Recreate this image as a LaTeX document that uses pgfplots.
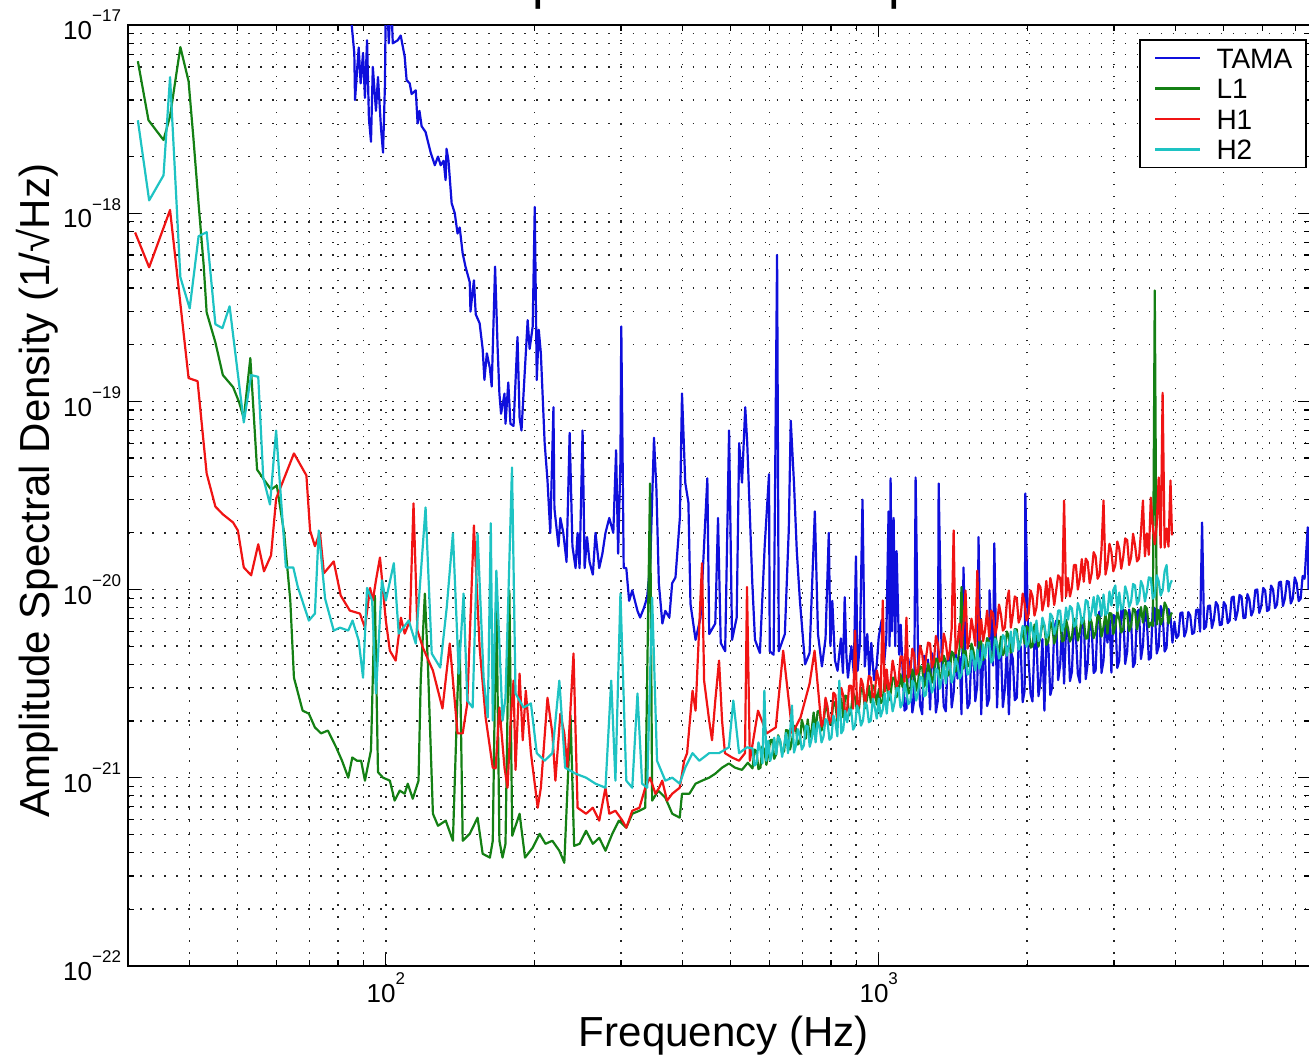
\documentclass[border=0pt]{standalone}
\usepackage{fontspec}
\setmainfont{Liberation Sans}
\usepackage{pgfplots}
\pgfplotsset{compat=1.18}
\definecolor{tama}{RGB}{15,15,220}
\definecolor{lone}{RGB}{20,128,20}
\definecolor{hone}{RGB}{240,20,20}
\definecolor{htwo}{RGB}{30,195,195}
\newcommand{\ex}[1]{10\raisebox{0.68em}{\fontsize{8.5}{8.5}\selectfont#1}}

\begin{document}
\begin{tikzpicture}
\begin{axis}[
    name=ax,
    scale only axis,
    width=590.5pt, height=470pt,
    xmode=log, ymode=log,
    xmin=30, xmax=7500, ymin=1e-22, ymax=1e-17,
    xtick={100,1000},
    xticklabels={\ex{2},\ex{3}},
    ytick={1e-22,1e-21,1e-20,1e-19,1e-18,1e-17},
    yticklabels={\ex{−22},\ex{−21},\ex{−20},\ex{−19},\ex{−18},\ex{−17}},
    minor xtick={40,50,60,70,80,90,200,300,400,500,600,700,800,900,2000,3000,4000,5000,6000,7000},
    minor ytick={2e-22,3e-22,4e-22,5e-22,6e-22,7e-22,8e-22,9e-22,
                 2e-21,3e-21,4e-21,5e-21,6e-21,7e-21,8e-21,9e-21,
                 2e-20,3e-20,4e-20,5e-20,6e-20,7e-20,8e-20,9e-20,
                 2e-19,3e-19,4e-19,5e-19,6e-19,7e-19,8e-19,9e-19,
                 2e-18,3e-18,4e-18,5e-18,6e-18,7e-18,8e-18,9e-18},
    grid=both,
    major grid style={black!85, line width=0.7pt, dash pattern=on 0.7pt off 5.3pt},
    minor grid style={black!85, line width=0.7pt, dash pattern=on 0.7pt off 5.3pt},
    tick align=inside,
    major tick length=6pt, minor tick length=3pt,
    every tick/.style={black, line width=0.6pt},
    axis line style={line width=1pt},
    tick label style={font=\fontsize{13}{13}\selectfont},
    xlabel={Frequency (Hz)},
    ylabel={Amplitude Spectral Density (1/√Hz)},
    label style={font=\fontsize{21}{21}\selectfont},
    xlabel style={at={(axis description cs:0.504,-0.0745)}, anchor=center},
    ylabel style={at={(axis description cs:-0.077,0.505)}, anchor=center},
    every axis plot/.append style={line width=1.1pt, line join=round},
    legend cell align=left,
    legend style={at={(axis description cs:0.9975,0.985)}, anchor=north east,
        draw=black, line width=0.8pt, fill=white,
        font=\fontsize{14}{15}\selectfont,
        nodes={inner sep=0pt, text height=10pt, text depth=0pt},
        row sep=5.25pt, column sep=7.5pt, inner xsep=7pt, inner ysep=4pt},
    legend image code/.code={\draw[#1, line width=1.1pt] (0pt,0pt) -- (22.5pt,0pt);},
]

% TAMA
\addplot[color=tama] coordinates {
(83.2,2e-17) (86.3,7.1e-18) (86.6,4.0e-18) (88.1,7.6e-18) (88.9,4.9e-18) (89.9,7.1e-18) (90.7,4.1e-18) (91.6,8.3e-18)
(92.4,3.2e-18) (93.3,2.4e-18) (94.1,6.0e-18) (95.5,3.5e-18) (96.4,5.3e-18) (97.3,3.5e-18) (97.8,2.8e-18) (98.7,2.1e-18)
(99.6,4.9e-18) (100,1.5e-17) (100.5,1.5e-17) (101.4,8.0e-18) (102.4,1.5e-17) (103.3,8.0e-18) (105.7,8.3e-18) (107.2,8.8e-18)
(109.2,6.8e-18) (110.2,5.1e-18) (111.8,4.9e-18) (112.8,4.3e-18) (115.0,4.5e-18) (116.0,3.0e-18) (117.0,3.5e-18) (118.2,2.9e-18)
(120.4,2.7e-18) (123.3,2.1e-18) (125.7,1.8e-18) (127.6,2.0e-18) (129.2,1.8e-18) (131.0,1.9e-18) (132.2,1.5e-18) (132.8,2.2e-18)
(134.0,1.9e-18) (136.0,1.13e-18) (138.0,1.0e-18) (139.8,7.8e-19) (141.2,8.4e-19) (143.2,6.1e-19) (145.1,5.2e-19) (148.0,4.3e-19)
(148.5,3.0e-19) (150.9,4.4e-19) (152.2,2.9e-19) (155.0,2.6e-19) (157.2,1.9e-19) (158.5,1.3e-19) (160.3,1.8e-19) (162.6,1.5e-19)
(164.0,1.2e-19) (166.6,5.2e-19) (168.6,1.9e-19) (170.0,1.1e-19) (171.3,8.6e-20) (174.1,1.1e-19) (174.9,7.6e-20) (177.2,1.26e-19)
(179.0,7.6e-20) (181.6,7.4e-20) (185.0,2.2e-19) (186.8,8.2e-20) (188.5,7.0e-20) (192.3,1.8e-19) (194.0,2.7e-19) (195.8,1.9e-19)
(198.6,2.5e-19) (200.5,1.08e-18) (202.4,1.3e-19) (204.3,2.4e-19) (206.3,1.8e-19) (210.0,6.0e-20) (212.8,3.8e-20) (215.6,2.0e-20)
(218.8,9.3e-20) (219.8,2.7e-20) (224.0,1.7e-20) (226.0,2.4e-20) (229.1,2.0e-20) (232.6,1.4e-20) (236.0,6.8e-20) (239.1,1.7e-20)
(242.6,1.3e-20) (244.9,2.0e-20) (247.2,1.3e-20) (250.7,7.0e-20) (253.1,1.3e-20) (256.0,1.9e-20) (259.0,1.4e-20) (263.0,1.2e-20)
(266.3,2.0e-20) (271.0,1.3e-20) (275.0,1.55e-20) (279.0,2.0e-20) (284.0,2.4e-20) (289.4,2.0e-20) (293.2,5.5e-20) (296.0,1.55e-20)
(299.2,4.8e-20) (300.4,2.5e-19) (303.8,1.3e-20) (307.5,1.3e-20) (311.6,8.7e-21) (316.2,9.9e-21) (324,7.7e-21) (328,7.1e-21)
(334,8.0e-21) (339,9.1e-21) (344,1.4e-20) (350,6.4e-20) (354,3.4e-20) (358,1.08e-20) (364,6.6e-21) (369,7.7e-21)
(376,7.1e-21) (381,1.08e-20) (387,1.16e-20) (395,2.4e-20) (399,1.1e-19) (405,3.7e-20) (411,2.9e-20) (415,8.4e-21)
(425,5.4e-21) (435,7.1e-21) (449,3.9e-20) (453,5.8e-21) (466,6.6e-21) (472,2.4e-20) (478,5.2e-21) (488,4.7e-21)
(497,7.0e-20) (504,5.4e-21) (515,7.1e-21) (521,6.0e-20) (528,3.7e-20) (536,9.3e-20) (541,6.0e-20) (548,2.4e-20)
(554,1.08e-20) (561,5.4e-21) (574,4.6e-21) (587,1.7e-20) (599,4.1e-20) (601,4.7e-21) (612,4.5e-21) (622,6.0e-19)
(627,4.7e-21) (645,5.8e-21) (657,2.1e-20) (663,7.9e-20) (673,3.7e-20) (682,1.6e-20) (692,8.7e-21) (709,4.0e-21)
(724,4.6e-21) (742,2.6e-20) (753,5.8e-21) (767,3.9e-21) (780,5.5e-21) (792,2.0e-20) (798,5.0e-21) (805,8.7e-21)
(815,4.2e-21) (825,3.7e-21) (838,5.5e-21) (846,3.6e-21) (853,9.1e-21) (860,4.4e-21) (866,3.4e-21) (880,5.0e-21)
(890,3.6e-21) (899,1.5e-20) (906,3.7e-21) (916,5.2e-21) (927,3.0e-20) (937,3.9e-21) (948,5.8e-21) (957,3.5e-21)
(966,5.2e-21) (978,3.3e-21) (990,3.9e-21) (1000,5.6e-21) (1014,6.9e-21) (1025,4.0e-21) (1036,5.5e-21) (1047,2.6e-20)
(1052,5.0e-21) (1057,3.9e-20) (1064,6.0e-21) (1072,2.4e-20) (1080,5.0e-21) (1087,1.6e-20) (1100,4.5e-21) (1108,6.5e-21)
(1117,3.94e-21) (1128,2.27e-21) (1138,2.33e-21) (1148,4.29e-21) (1159,3.62e-21) (1170,2.22e-21) (1180,2.57e-21) (1188,3.94e-20)
(1202,4.24e-21) (1213,2.42e-21) (1225,2.17e-21) (1236,4.45e-21) (1247,3.12e-21) (1259,4.24e-21) (1271,2.30e-21) (1282,4.59e-21)
(1294,4.19e-21) (1306,2.22e-21) (1318,2.57e-21) (1323,3.66e-20) (1343,3.80e-21) (1355,2.39e-21) (1368,2.25e-21) (1381,4.42e-21)
(1393,4.62e-21) (1406,2.36e-21) (1419,2.83e-21) (1432,4.65e-21) (1445,3.36e-21) (1459,4.40e-21) (1472,2.17e-21) (1486,1.31e-20)
(1500,3.99e-21) (1514,2.34e-21) (1528,2.48e-21) (1542,4.68e-21) (1556,4.45e-21) (1570,2.55e-21) (1585,3.12e-21) (1594,1.90e-20)
(1614,2.17e-21) (1629,4.51e-21) (1644,4.24e-21) (1659,2.40e-21) (1675,2.63e-21) (1678,9.9e-21) (1706,3.94e-21) (1716,1.76e-20)
(1738,2.36e-21) (1754,4.76e-21) (1770,4.79e-21) (1786,2.37e-21) (1803,2.97e-21) (1820,5.0e-21) (1837,2.17e-21) (1854,4.71e-21)
(1871,4.29e-21) (1888,2.58e-21) (1906,2.66e-21) (1923,5.26e-21) (1941,4.97e-21) (1959,2.52e-21) (1977,2.90e-21) (1984,3.24e-20)
(2014,4.24e-21) (2033,2.78e-21) (2051,2.54e-21) (2070,5.45e-21) (2089,5.55e-21) (2109,2.71e-21) (2128,3.24e-21) (2148,5.45e-21)
(2168,2.27e-21) (2188,5.26e-21) (2208,5.1e-21) (2229,2.75e-21) (2249,3.04e-21) (2270,6.20e-21) (2291,6.84e-21) (2312,3.30e-21)
(2334,3.99e-21) (2355,6.47e-21) (2377,3.16e-21) (2399,6.24e-21) (2421,6.27e-21) (2443,3.26e-21) (2466,3.66e-21) (2489,6.88e-21)
(2512,5.69e-21) (2535,3.55e-21) (2559,3.20e-21) (2582,6.72e-21) (2606,7.0e-21) (2630,3.34e-21) (2655,4.09e-21) (2679,7.05e-21)
(2704,6.35e-21) (2729,3.60e-21) (2754,3.71e-21) (2780,7.05e-21) (2805,7.64e-21) (2831,3.60e-21) (2858,4.19e-21) (2884,7.05e-21)
(2911,5.22e-21) (2938,7.45e-21) (2965,3.62e-21) (2992,7.32e-21) (3020,7.18e-21) (3048,3.83e-21) (3076,4.19e-21) (3105,7.88e-21)
(3133,7.83e-21) (3162,4.02e-21) (3192,4.68e-21) (3221,7.83e-21) (3251,6.75e-21) (3281,3.87e-21) (3311,4.09e-21) (3342,7.59e-21)
(3373,7.83e-21) (3404,4.27e-21) (3436,5.03e-21) (3468,8.17e-21) (3500,6.75e-21) (3532,4.24e-21) (3565,4.34e-21) (3598,8.07e-21)
(3631,7.93e-21) (3665,4.57e-21) (3698,4.97e-21) (3733,8.17e-21) (3767,7.55e-21) (3802,4.68e-21) (3837,4.91e-21) (3872,7.88e-21)
(3908,7.18e-21) (3944,5.22e-21) (3981,6.75e-21) (4018,5.52e-21) (4055,5.69e-21) (4093,7.50e-21) (4131,7.55e-21) (4169,5.62e-21)
(4207,6.05e-21) (4246,7.59e-21) (4286,7.27e-21) (4325,5.80e-21) (4365,5.91e-21) (4405,7.78e-21) (4446,7.83e-21) (4487,5.98e-21)
(4529,2.27e-20) (4571,6.16e-21) (4613,6.35e-21) (4656,8.17e-21) (4699,8.22e-21) (4742,6.24e-21) (4786,6.92e-21) (4830,8.58e-21)
(4875,8.22e-21) (4920,6.47e-21) (4966,6.51e-21) (5012,8.58e-21) (5058,8.22e-21) (5105,6.63e-21) (5152,6.84e-21) (5200,9.06e-21)
(5248,9.18e-21) (5297,6.88e-21) (5346,7.64e-21) (5395,9.35e-21) (5445,9.18e-21) (5495,7.05e-21) (5546,7.09e-21) (5597,9.46e-21)
(5649,8.84e-21) (5701,7.27e-21) (5754,7.73e-21) (5807,9.94e-21) (5861,1.0e-20) (5915,7.50e-21) (5970,8.12e-21) (6025,1.02e-20)
(6081,9.88e-21) (6137,7.68e-21) (6194,7.83e-21) (6251,1.05e-20) (6310,1.0e-20) (6368,7.97e-21) (6427,8.32e-21) (6486,1.09e-20)
(6546,1.10e-20) (6607,8.17e-21) (6668,8.95e-21) (6730,1.11e-20) (6792,1.10e-20) (6855,8.43e-21) (6918,8.95e-21) (6983,1.16e-20)
(7047,1.08e-20) (7112,8.68e-21) (7178,8.95e-21) (7245,1.18e-20) (7311,1.14e-20) (7420,2.14e-20) (7447,1.01e-20) (7586,1.15e-20)
};
\addlegendentry{TAMA}

% L1
\addplot[color=lone] coordinates {
(31.4,6.43e-18) (33.0,3.12e-18) (35.4,2.45e-18) (36.5,3.28e-18) (38.3,7.64e-18) (39.8,5.03e-18) (40.7,2.51e-18) (41.7,1.12e-18)
(42.7,5.29e-19) (43.3,2.97e-19) (45.1,2.06e-19) (46.7,1.38e-19) (49.0,1.19e-19) (50.4,9.88e-20) (51.5,8.12e-20) (53.1,1.70e-19)
(54.8,4.34e-20) (56.9,3.76e-20) (58.5,3.40e-20) (60.1,3.57e-20) (62.2,1.99e-20) (64.0,8.74e-21) (65.1,3.40e-21) (67.8,2.27e-21)
(69.8,2.19e-21) (71.8,1.85e-21) (73.9,1.72e-21) (76.3,1.78e-21) (79.3,1.45e-21) (81.5,1.23e-21) (83.9,1.0e-21) (85.5,1.28e-21)
(87.4,1.23e-21) (89.1,1.23e-21) (90.7,9.64e-22) (93.3,1.40e-21) (95.0,9.29e-21) (96.4,1.07e-21) (98.7,1.0e-21) (101.9,9.64e-22)
(104.2,7.55e-22) (106.7,8.53e-22) (109.2,8.22e-22) (110.8,9.29e-22) (113.4,7.73e-22) (116.5,9.64e-22) (117.7,3.28e-21) (120.0,9.52e-21)
(121.7,4.04e-21) (124.6,6.43e-22) (127.6,5.55e-22) (132.3,5.91e-22) (136.8,4.62e-22) (139.8,2.80e-21) (141.2,5.35e-21) (143.2,4.62e-22)
(148.0,5.03e-22) (153.5,6.13e-22) (157.2,3.94e-22) (162.6,3.76e-22) (164.8,4.62e-22) (167.6,9.88e-21) (170.0,4.62e-22) (172.5,3.76e-22)
(174.9,4.45e-22) (178.1,9.88e-21) (180.5,4.91e-22) (186.8,6.43e-22) (191.6,3.76e-22) (198.6,4.24e-22) (205.1,5.03e-22) (210.8,4.45e-22)
(217.7,4.62e-22) (224.9,4.09e-22) (230.2,3.53e-22) (237.0,2.14e-21) (241.0,4.34e-22) (247.2,4.45e-22) (254.8,5.22e-22) (263.0,4.45e-22)
(271.0,4.79e-22) (279.0,4.09e-22) (288.0,5.03e-22) (297.0,5.91e-22) (307.5,5.42e-22) (316.2,6.43e-22) (327.0,6.67e-22) (336.0,6.92e-22)
(343.6,3.66e-20) (347.0,7.55e-22) (357.0,8.53e-22) (369.0,7.83e-22) (381.2,6.43e-22) (394.7,6.13e-22) (399.0,8.22e-22) (413.0,8.22e-22)
(425.0,9.29e-22) (438.0,9.64e-22) (452.9,1.0e-21) (466.0,1.05e-21) (481.0,1.13e-21) (496.6,1.19e-21) (511.0,1.13e-21) (527.8,1.10e-21)
(542.5,1.20e-21)
(554.6,1.12e-21) (559.7,1.41e-21) (564.9,1.38e-21) (570.1,1.11e-21) (575.4,1.13e-21) (580.7,1.47e-21) (586.1,1.40e-21) (591.5,1.17e-21)
(597.0,1.33e-21) (602.5,1.58e-21) (608.1,1.59e-21) (613.7,1.26e-21) (619.4,1.33e-21) (625.1,1.68e-21) (631.0,1.56e-21) (636.8,1.35e-21)
(642.7,1.38e-21) (648.6,1.79e-21) (654.6,1.78e-21) (660.7,1.41e-21) (666.8,1.56e-21) (673.0,1.89e-21) (679.2,1.83e-21) (685.5,1.50e-21)
(691.8,1.54e-21) (698.2,2.03e-21) (704.7,1.85e-21) (711.2,1.61e-21) (717.8,2.04e-21) (724.5,1.64e-21) (731.1,1.80e-21) (737.9,2.22e-21)
(744.7,1.78e-21) (751.6,2.25e-21) (758.6,2.27e-21) (765.6,1.78e-21) (772.7,1.99e-21) (779.9,2.40e-21) (787.1,2.27e-21) (794.4,1.92e-21)
(801.7,1.97e-21) (809.1,2.54e-21) (816.6,2.45e-21) (824.2,1.99e-21) (831.8,2.27e-21) (839.5,2.63e-21) (847.2,2.09e-21) (855.0,2.73e-21)
(863.0,2.70e-21) (871.0,2.14e-21) (879.0,2.30e-21) (887.1,2.83e-21) (895.4,2.66e-21) (903.7,2.24e-21) (912.0,2.33e-21) (920.4,2.97e-21)
(929.0,2.97e-21) (937.6,2.34e-21) (946.2,2.60e-21) (955.0,3.08e-21) (963.8,2.51e-21) (972.7,3.10e-21) (981.8,2.97e-21) (990.9,2.45e-21)
(1000,2.94e-21) (1009,2.49e-21) (1019,2.57e-21) (1028,3.30e-21) (1038,3.20e-21) (1047,2.57e-21) (1057,2.80e-21) (1067,3.40e-21)
(1077,3.40e-21) (1087,2.68e-21) (1097,2.83e-21) (1107,3.55e-21) (1117,3.04e-21) (1128,3.57e-21) (1138,3.44e-21) (1148,2.80e-21)
(1159,2.87e-21) (1170,3.76e-21) (1180,3.53e-21) (1191,2.90e-21) (1202,3.24e-21) (1213,3.90e-21) (1225,3.85e-21) (1236,3.04e-21)
(1247,3.20e-21) (1259,4.04e-21) (1271,3.71e-21) (1282,3.20e-21) (1294,3.48e-21) (1306,4.29e-21) (1318,4.27e-21) (1330,3.38e-21)
(1343,3.53e-21) (1355,4.45e-21) (1368,4.14e-21) (1381,3.48e-21) (1393,3.62e-21) (1406,4.68e-21) (1419,4.53e-21) (1432,3.66e-21)
(1445,4.09e-21) (1459,4.85e-21) (1472,1.03e-20) (1486,3.80e-21) (1500,4.73e-21) (1514,3.90e-21) (1528,3.97e-21) (1542,5.16e-21)
(1556,4.73e-21) (1570,4.04e-21) (1585,4.31e-21) (1600,5.35e-21) (1614,5.29e-21) (1629,4.22e-21) (1644,4.57e-21) (1659,5.52e-21)
(1675,5.29e-21) (1690,4.29e-21) (1706,4.37e-21) (1722,5.69e-21) (1738,5.10e-21) (1754,4.48e-21) (1770,5.62e-21) (1786,4.48e-21)
(1803,4.73e-21) (1820,5.98e-21) (1837,5.59e-21) (1854,4.62e-21) (1871,4.79e-21) (1888,6.16e-21) (1906,6.13e-21) (1923,4.83e-21)
(1941,5.29e-21) (1959,6.31e-21) (1977,5.16e-21) (1995,6.39e-21) (2014,6.20e-21) (2033,4.91e-21) (2051,5.0e-21) (2070,6.51e-21)
(2089,5.98e-21) (2109,4.97e-21) (2128,5.66e-21) (2148,6.59e-21) (2168,6.43e-21) (2188,5.07e-21) (2208,5.29e-21) (2229,6.72e-21)
(2249,6.35e-21) (2270,5.16e-21) (2291,5.59e-21) (2312,6.84e-21) (2334,6.75e-21) (2355,5.29e-21) (2377,5.38e-21) (2399,6.92e-21)
(2421,6.20e-21) (2443,5.29e-21) (2466,5.59e-21) (2489,7.0e-21) (2512,6.67e-21) (2535,5.35e-21) (2559,5.94e-21) (2582,7.09e-21)
(2606,6.92e-21) (2630,5.48e-21) (2655,5.52e-21) (2679,7.18e-21) (2704,6.67e-21) (2729,5.52e-21) (2754,5.91e-21) (2780,7.32e-21)
(2805,7.09e-21) (2831,5.62e-21) (2858,6.31e-21) (2884,7.45e-21) (2911,5.83e-21) (2938,7.5e-21) (2965,7.45e-21) (2992,5.80e-21)
(3020,6.35e-21) (3048,7.64e-21) (3076,6.97e-21) (3105,5.91e-21) (3133,6.13e-21) (3162,7.78e-21) (3192,7.45e-21) (3221,6.01e-21)
(3251,6.43e-21) (3281,7.93e-21) (3311,7.78e-21) (3342,6.13e-21) (3373,6.92e-21) (3404,8.07e-21) (3436,6.67e-21) (3468,8.17e-21)
(3500,7.93e-21) (3532,6.31e-21) (3565,6.67e-21) (3598,6.39e-21) (3631,3.89e-19) (3665,6.51e-21) (3698,7.78e-21) (3733,6.51e-21)
(3767,6.92e-21) (3802,8.53e-21) (3837,8.07e-21) (3872,6.59e-21) (3908,7.27e-21) (3935,7.55e-21)
};
\addlegendentry{L1}

% H1
\addplot[color=hone] coordinates {
(31.0,7.9e-19) (33.1,5.16e-19) (36.5,1.04e-18) (39.8,1.33e-19) (41.5,1.28e-19) (43.3,4.14e-20) (45.1,2.76e-20) (46.7,2.51e-20)
(49.0,2.27e-20) (50.1,2.06e-20) (51.5,1.31e-20) (53.3,1.19e-20) (55.1,1.74e-20) (56.6,1.25e-20) (58.5,1.52e-20) (59.9,3.04e-20)
(65.1,5.29e-20) (69.0,4.04e-20) (70.2,2.06e-20) (71.8,1.70e-20) (73.5,2.01e-20) (74.9,1.22e-20) (78.4,1.41e-20) (81.0,9.29e-21)
(84.5,7.73e-21) (88.6,7.45e-21) (90.7,6.27e-21) (92.9,1.02e-20) (94.1,8.74e-21) (95.5,1.12e-20) (97.3,1.48e-20) (100,6.84e-21)
(101.9,4.73e-21) (104.7,4.19e-21) (107.3,7.09e-21) (109.2,5.83e-21) (111.9,6.84e-21) (113.8,2.87e-20) (115.9,6.05e-21) (118.9,4.91e-21)
(124.6,3.71e-21) (130.3,2.33e-21) (134.8,5.16e-21) (139.8,1.72e-21) (143.2,1.72e-21) (146.3,2.48e-21) (150.9,2.19e-20) (155.0,4.91e-21)
(159.4,2.09e-21) (164.8,1.13e-21) (167.0,1.12e-21) (170.0,2.36e-21) (174.1,1.13e-21) (176.6,8.84e-22) (179.0,1.94e-21) (181.6,3.28e-21)
(183.3,1.10e-21) (186.8,3.57e-21) (189.6,1.58e-21) (192.3,2.90e-21) (197.0,1.35e-21) (203.3,6.92e-22) (206.3,8.84e-22) (212.8,2.66e-21)
(217.7,1.72e-21) (220.8,9.64e-22) (226.0,2.19e-21) (230.2,1.72e-21) (233.4,1.13e-21) (240.3,4.57e-21) (244.9,6.92e-22) (254.8,6.43e-22)
(263.0,6.92e-22) (271.0,5.91e-22) (279.0,8.84e-22) (284.0,6.43e-22) (292.3,6.67e-22) (302.0,5.91e-22) (307.5,5.42e-22) (316.2,6.67e-22)
(327.0,6.92e-22) (336.0,8.84e-22) (343.6,1.0e-21) (352.4,8.22e-22) (358.5,8.84e-22) (363.8,9.64e-22) (372.0,7.55e-22) (381.2,8.22e-22)
(394.7,8.84e-22) (403.0,1.23e-21) (408.5,1.35e-21) (419.0,2.90e-21) (425.0,2.27e-21) (438.0,1.38e-20) (442.3,3.28e-21) (452.9,2.01e-21)
(459.0,1.58e-21) (466.0,2.57e-21) (474.3,4.19e-21) (481.0,2.01e-21) (487.5,1.35e-21) (504.0,1.28e-21) (520.8,1.23e-21) (535.4,1.35e-21)
(540.4,1.03e-20) (547.7,1.23e-21) (569.0,2.27e-21) (592.7,1.72e-21) (618.3,1.85e-21) (640.0,4.73e-21) (668.0,1.72e-21) (694.0,2.09e-21)
(724.0,3.16e-21) (741.0,4.73e-21)
(758.6,2.42e-21) (765.6,1.87e-21) (772.7,1.99e-21) (779.9,2.66e-21) (787.1,2.39e-21) (794.4,1.94e-21) (801.7,2.04e-21) (809.1,2.83e-21)
(816.6,2.76e-21) (824.2,2.09e-21) (831.8,2.33e-21) (839.5,3.0e-21) (847.2,2.73e-21) (855.0,2.17e-21) (863.0,2.33e-21) (871.0,3.08e-21)
(879.0,3.08e-21) (887.1,2.33e-21) (895.4,6.05e-21) (903.7,2.33e-21) (912.0,2.45e-21) (920.4,3.36e-21) (929.0,3.12e-21) (937.6,2.42e-21)
(946.2,2.87e-21) (955.0,3.48e-21) (963.8,3.40e-21) (972.7,2.57e-21) (981.8,2.80e-21) (990.9,3.71e-21)
(1000,3.32e-21) (1009,2.70e-21) (1019,8.74e-21) (1028,2.87e-21) (1038,3.76e-21) (1047,2.92e-21) (1057,3.24e-21) (1067,4.19e-21)
(1077,3.66e-21) (1087,3.04e-21) (1097,3.28e-21) (1107,4.40e-21) (1117,4.40e-21) (1128,3.24e-21) (1138,7.09e-21) (1148,3.40e-21)
(1159,3.66e-21) (1170,4.85e-21) (1180,4.51e-21) (1191,3.53e-21) (1202,3.66e-21) (1213,5.03e-21) (1225,4.57e-21) (1236,3.62e-21)
(1247,4.34e-21) (1259,5.22e-21) (1271,5.16e-21) (1282,3.85e-21) (1294,4.14e-21) (1306,5.66e-21) (1318,5.16e-21) (1330,4.14e-21)
(1343,4.24e-21) (1355,5.83e-21) (1368,5.22e-21) (1381,4.24e-21) (1393,4.68e-21) (1406,6.20e-21) (1419,2.06e-20) (1432,4.57e-21)
(1445,5.16e-21) (1459,6.59e-21) (1472,4.91e-21) (1486,6.59e-21) (1500,9.88e-21) (1514,4.85e-21) (1528,5.42e-21) (1542,7.0e-21)
(1556,6.05e-21) (1570,5.03e-21) (1585,1.26e-20) (1600,5.35e-21) (1614,6.92e-21) (1629,5.32e-21) (1644,6.13e-21) (1659,7.73e-21)
(1675,5.62e-21) (1690,7.73e-21) (1706,7.45e-21) (1722,5.69e-21) (1738,6.43e-21) (1754,8.32e-21) (1770,7.36e-21) (1786,6.05e-21)
(1803,6.27e-21) (1820,8.63e-21) (1837,9.88e-21) (1854,6.27e-21) (1871,7.36e-21) (1888,9.18e-21) (1906,8.95e-21) (1923,6.67e-21)
(1941,7.18e-21) (1959,9.52e-21) (1977,8.43e-21) (1995,6.84e-21) (2014,7.36e-21) (2033,9.88e-21) (2051,9.18e-21) (2070,7.27e-21)
(2089,8.02e-21) (2109,1.07e-20) (2128,1.03e-20) (2148,7.73e-21) (2168,8.74e-21) (2188,1.11e-20) (2208,8.12e-21) (2229,1.15e-20)
(2249,1.03e-20) (2270,8.27e-21) (2291,9.88e-21) (2312,1.19e-20) (2334,1.15e-20) (2355,8.68e-21) (2377,2.97e-20) (2399,9.18e-21)
(2421,1.15e-20) (2443,9.18e-21) (2466,1.03e-20) (2489,1.35e-20) (2512,1.35e-20) (2535,1.0e-20) (2559,1.15e-20) (2582,1.45e-20)
(2606,1.10e-20) (2630,1.46e-20) (2655,1.40e-20) (2679,1.08e-20) (2704,1.22e-20) (2729,1.58e-20) (2754,1.50e-20) (2780,1.14e-20)
(2805,1.20e-20) (2831,1.63e-20) (2858,2.97e-20) (2884,1.20e-20) (2911,1.35e-20) (2938,1.75e-20) (2965,1.59e-20) (2992,1.25e-20)
(3020,1.35e-20) (3048,1.80e-20) (3076,1.65e-20) (3105,1.29e-20) (3133,1.48e-20) (3162,1.87e-20) (3192,1.83e-20) (3221,1.35e-20)
(3251,1.48e-20) (3281,1.98e-20) (3311,1.72e-20) (3342,1.41e-20) (3373,1.46e-20) (3404,2.01e-20) (3436,2.97e-20) (3468,1.50e-20)
(3500,1.99e-20) (3532,1.53e-20) (3565,3.08e-20) (3598,2.14e-20) (3631,1.74e-20) (3665,2.22e-20) (3698,3.94e-20) (3733,1.67e-20)
(3767,1.11e-19) (3802,1.67e-20) (3837,2.11e-20) (3872,1.69e-20) (3908,3.80e-20) (3935,1.94e-20)
};
\addlegendentry{H1}

% H2
\addplot[color=htwo] coordinates {
(31.4,3.12e-18) (33.1,1.17e-18) (35.4,1.59e-18) (36.5,5.29e-18) (38.3,4.57e-19) (40.0,3.12e-19) (41.7,7.55e-19) (43.3,7.93e-19)
(45.1,2.57e-19) (46.6,2.45e-19) (48.2,3.20e-19) (51.5,7.73e-20) (53.3,1.38e-19) (55.1,1.35e-19) (56.4,3.94e-20) (58.2,2.83e-20)
(59.9,7.0e-20) (62.7,1.31e-20) (64.9,1.31e-20) (66.3,1.03e-20) (69.8,6.84e-21) (71.8,7.45e-21) (73.1,2.06e-20) (75.3,8.95e-21)
(78.4,6.05e-21) (80.7,6.27e-21) (83.9,6.05e-21) (85.6,6.84e-21) (88.1,5.35e-21) (89.9,3.40e-21) (91.6,1.02e-20) (93.8,8.74e-21)
(95.5,2.80e-21) (98.2,1.12e-20) (100,8.74e-21) (103.8,1.38e-20) (106.2,5.83e-21) (111.3,6.84e-21) (115.0,5.16e-21) (120.4,2.73e-20)
(123.9,4.57e-21) (128.9,3.85e-21) (132.9,8.02e-21) (136.8,1.99e-20) (140.6,3.57e-21) (143.8,9.52e-21) (146.3,2.57e-21) (150.0,2.36e-21)
(153.5,1.99e-20) (157.9,3.40e-21) (161.0,2.09e-21) (163.3,2.25e-20) (164.8,2.01e-21) (167.6,1.26e-20) (172.5,2.01e-21) (174.9,2.66e-21)
(180.3,4.45e-20) (183.3,2.80e-21) (190.3,2.36e-21) (197.0,2.48e-21) (202.4,1.35e-21) (210.0,1.23e-21) (217.7,1.35e-21) (224.9,3.28e-21)
(231.1,1.13e-21) (242.6,1.05e-21) (254.8,1.0e-21) (266.3,9.29e-22) (279.0,8.84e-22) (286.6,3.28e-21) (292.3,9.64e-22) (299.2,9.52e-21)
(307.5,9.64e-22) (316.2,8.84e-22) (324.0,2.80e-21) (331.1,9.29e-22) (339.0,8.84e-22) (347.0,9.06e-21) (355.0,1.23e-21) (369.0,9.64e-22)
(381.2,1.0e-21) (394.7,9.29e-22) (405.0,1.13e-21) (419.0,1.35e-21) (432.5,1.23e-21) (452.9,1.35e-21) (474.3,1.35e-21) (496.6,1.45e-21)
(507,2.57e-21) (520.8,1.35e-21) (540.4,1.45e-21)
(554.6,1.43e-21) (559.7,1.16e-21) (564.9,1.19e-21) (570.1,1.54e-21) (575.4,1.40e-21) (580.7,1.19e-21) (586.1,2.90e-21) (591.5,1.23e-21)
(597.0,1.57e-21) (602.5,1.23e-21) (608.1,1.35e-21) (613.7,1.63e-21) (619.4,1.33e-21) (625.1,1.66e-21) (631.0,1.57e-21) (636.8,1.29e-21)
(642.7,1.48e-21) (648.6,1.73e-21) (654.6,1.35e-21) (660.7,1.73e-21) (666.8,2.42e-21) (673.0,1.36e-21) (679.2,1.48e-21) (685.5,1.81e-21)
(691.8,1.67e-21) (698.2,1.41e-21) (704.7,1.48e-21) (711.2,1.89e-21) (717.8,1.87e-21) (724.5,1.46e-21) (731.1,1.61e-21) (737.9,1.94e-21)
(744.7,1.54e-21) (751.6,1.98e-21) (758.6,1.85e-21) (765.6,1.54e-21) (772.7,1.65e-21) (779.9,2.05e-21) (787.1,1.99e-21) (794.4,1.59e-21)
(801.7,1.63e-21) (809.1,2.14e-21) (816.6,1.97e-21) (824.2,1.66e-21) (831.8,3.28e-21) (839.5,1.72e-21) (847.2,1.80e-21) (855.0,2.27e-21)
(863.0,1.97e-21) (871.0,2.31e-21) (879.0,2.30e-21) (887.1,1.80e-21) (895.4,1.89e-21) (903.7,2.42e-21) (912.0,2.25e-21) (920.4,1.89e-21)
(929.0,2.01e-21) (937.6,2.51e-21) (946.2,2.42e-21) (955.0,1.97e-21) (963.8,2.01e-21) (972.7,2.63e-21) (981.8,2.36e-21) (990.9,2.06e-21)
(1000,2.63e-21) (1009,2.11e-21) (1019,2.30e-21) (1028,2.80e-21) (1038,2.19e-21) (1047,2.87e-21) (1057,2.73e-21) (1067,2.25e-21)
(1077,2.51e-21) (1087,3.0e-21) (1097,3.0e-21) (1107,2.36e-21) (1117,2.48e-21) (1128,3.16e-21) (1138,2.87e-21) (1148,2.46e-21)
(1159,2.54e-21) (1170,3.28e-21) (1180,3.16e-21) (1191,2.57e-21) (1202,2.83e-21) (1213,3.44e-21) (1225,3.40e-21) (1236,2.70e-21)
(1247,2.76e-21) (1259,3.62e-21) (1271,3.32e-21) (1282,2.83e-21) (1294,3.04e-21) (1306,3.80e-21) (1318,3.71e-21) (1330,2.97e-21)
(1343,3.40e-21) (1355,3.99e-21) (1368,3.16e-21) (1381,4.09e-21) (1393,4.09e-21) (1406,3.20e-21) (1419,3.48e-21) (1432,4.29e-21)
(1445,3.99e-21) (1459,3.36e-21) (1472,3.53e-21) (1486,4.51e-21) (1500,4.34e-21) (1514,3.53e-21) (1528,3.62e-21) (1542,4.73e-21)
(1556,4.29e-21) (1570,3.71e-21) (1585,4.79e-21) (1600,3.80e-21) (1614,4.09e-21) (1629,5.10e-21) (1644,4.34e-21) (1659,5.22e-21)
(1675,5.22e-21) (1690,4.09e-21) (1706,4.24e-21) (1722,5.48e-21) (1738,5.16e-21) (1754,4.29e-21) (1770,4.57e-21) (1786,5.73e-21)
(1803,5.55e-21) (1820,4.45e-21) (1837,5.03e-21) (1854,5.98e-21) (1871,4.68e-21) (1888,6.13e-21) (1906,5.83e-21) (1923,4.79e-21)
(1941,5.29e-21) (1959,6.39e-21) (1977,6.27e-21) (1995,4.97e-21) (2014,5.22e-21) (2033,6.67e-21) (2051,5.98e-21) (2070,5.22e-21)
(2089,6.84e-21) (2109,5.32e-21) (2128,5.62e-21) (2148,7.09e-21) (2168,6.51e-21) (2188,5.55e-21) (2208,5.76e-21) (2229,7.45e-21)
(2249,7.18e-21) (2270,5.80e-21) (2291,6.27e-21) (2312,7.73e-21) (2334,7.73e-21) (2355,6.01e-21) (2377,6.43e-21) (2399,8.02e-21)
(2421,6.92e-21) (2443,8.17e-21) (2466,7.93e-21) (2489,6.35e-21) (2512,6.51e-21) (2535,8.47e-21) (2559,7.83e-21) (2582,6.59e-21)
(2606,7.0e-21) (2630,8.79e-21) (2655,8.63e-21) (2679,6.84e-21) (2704,7.64e-21) (2729,9.12e-21) (2754,7.27e-21) (2780,9.29e-21)
(2805,8.84e-21) (2831,7.23e-21) (2858,9.41e-21) (2884,7.32e-21) (2911,7.55e-21) (2938,9.76e-21) (2965,8.22e-21) (2992,9.94e-21)
(3020,1.05e-20) (3048,7.68e-21) (3076,9.64e-21) (3105,7.83e-21) (3133,8.02e-21) (3162,1.04e-20) (3192,9.52e-21) (3221,8.07e-21)
(3251,8.63e-21) (3281,1.07e-20) (3311,1.05e-20) (3342,8.32e-21) (3373,8.74e-21) (3404,1.11e-20) (3436,1.04e-20) (3468,8.63e-21)
(3500,9.76e-21) (3532,1.16e-20) (3565,1.15e-20) (3598,8.95e-21) (3631,9.29e-21) (3665,1.19e-20) (3698,1.11e-20) (3733,9.29e-21)
(3767,9.88e-21) (3802,1.25e-20) (3837,1.35e-20) (3872,9.76e-21) (3908,1.08e-20) (3935,1.12e-20)
};
\addlegendentry{H2}

\end{axis}
\node[anchor=base west, inner sep=0pt, font=\fontsize{26}{26}\selectfont]
    at ([xshift=148.5pt,yshift=13pt]ax.north west) {Sample of Recent Spectra};
\pgfresetboundingbox
\path[use as bounding box] ([xshift=-64pt,yshift=-48.5pt]ax.south west) rectangle ([xshift=-0.5pt,yshift=12.5pt]ax.north east);
\end{tikzpicture}
\end{document}
